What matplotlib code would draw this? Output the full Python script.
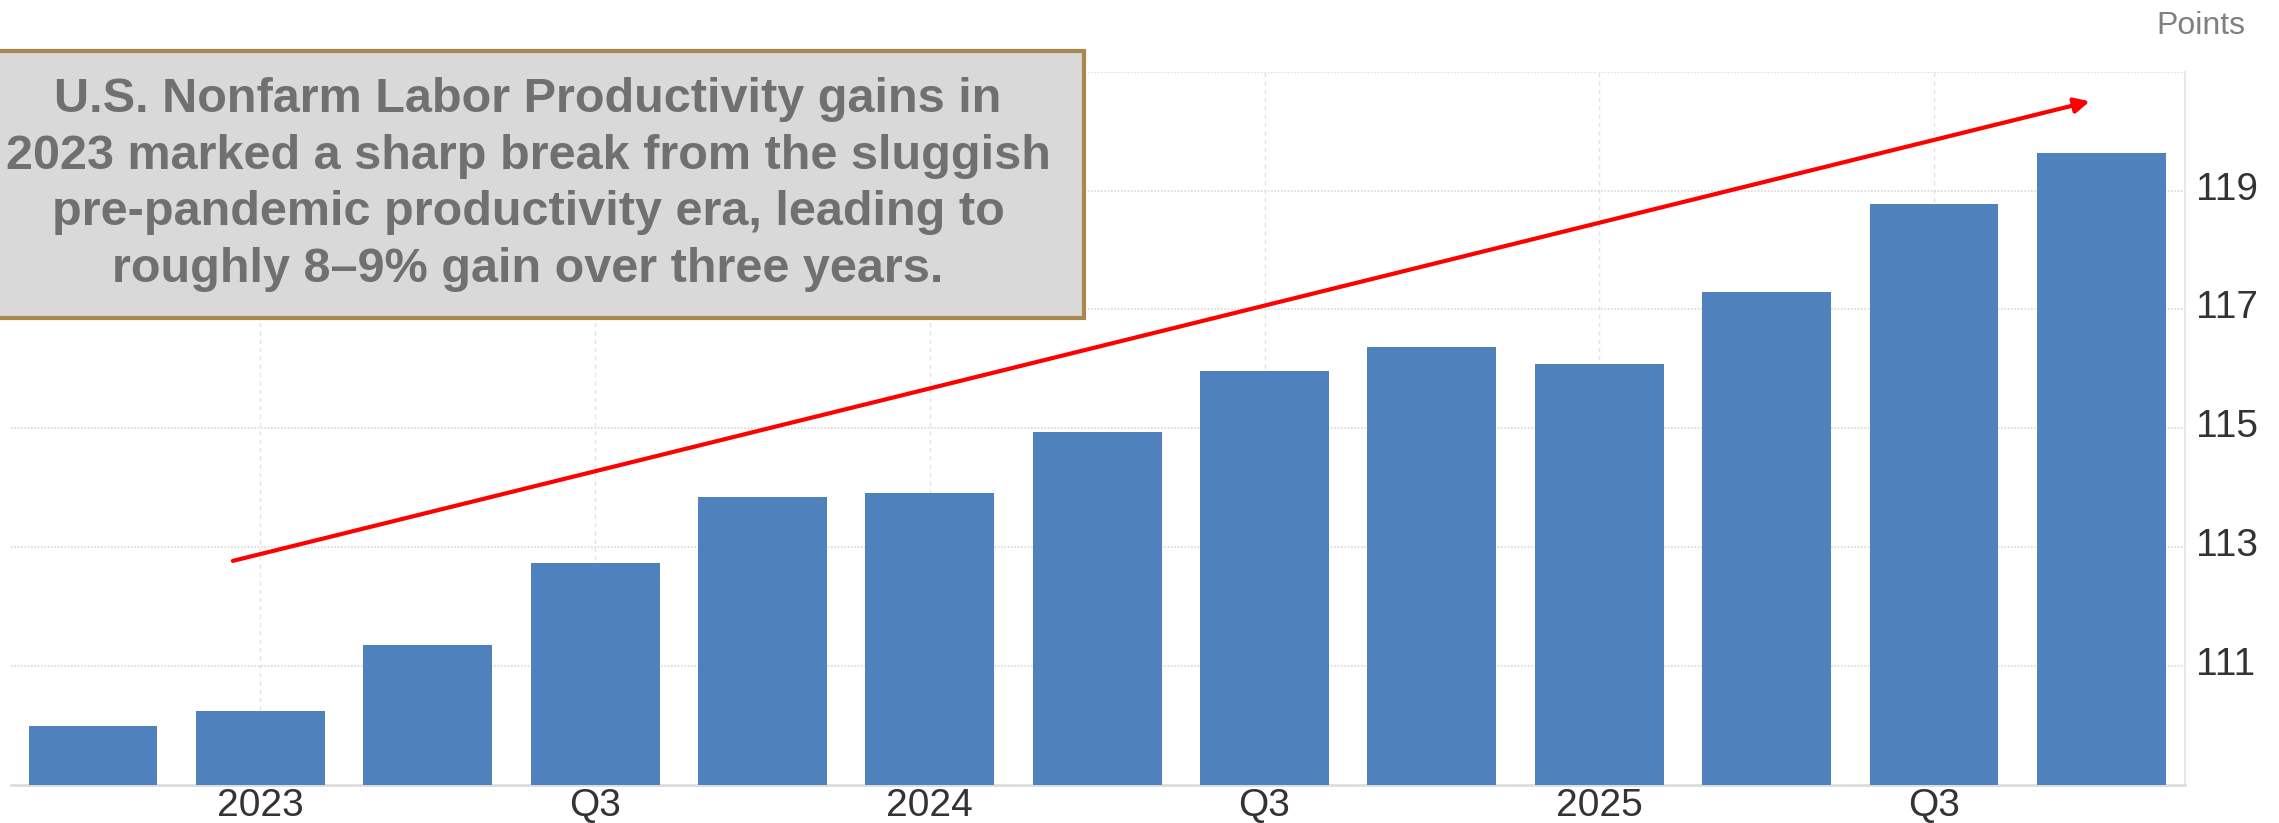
import matplotlib.pyplot as plt
from matplotlib.transforms import ScaledTranslation

# quarterly index values, 2022 Q4 .. 2025 Q4
quarters = ['2022Q4', '2023Q1', '2023Q2', '2023Q3', '2023Q4', '2024Q1', '2024Q2',
            '2024Q3', '2024Q4', '2025Q1', '2025Q2', '2025Q3', '2025Q4']
values = [110.0, 110.24, 111.35, 112.74, 113.84, 113.92, 114.94,
          115.96, 116.37, 116.08, 117.29, 118.78, 119.63]
tick_idx = [1, 3, 5, 7, 9, 11]
tick_labels = ['2023', 'Q3', '2024', 'Q3', '2025', 'Q3']
y_ticks = [111, 113, 115, 117, 119]
note = ("U.S. Nonfarm Labor Productivity gains in\n"
        "2023 marked a sharp break from the sluggish\n"
        "pre-pandemic productivity era, leading to\n"
        "roughly 8\u20139% gain over three years.")

plt.rcParams['font.family'] = ['Liberation Sans', 'DejaVu Sans']

fig = plt.figure(figsize=(22.79, 8.23), dpi=100)
ax = fig.add_axes([0.0048, 0.0462, 0.954, 0.8667])

x = list(range(len(values)))
ax.bar(x, [v - 109 for v in values], bottom=109, width=0.77, color='#4f81bd', zorder=3)

ax.set_xlim(-0.49, 12.5)
ax.set_ylim(109, 121)

ax.set_xticks(tick_idx)
ax.set_xticklabels(tick_labels)
ax.set_yticks(y_ticks + [121])
ax.set_yticklabels([str(t) for t in y_ticks] + [''])
ax.yaxis.tick_right()
ax.tick_params(axis='y', length=0, pad=8, labelsize=28, labelcolor='#333333')
ax.tick_params(axis='x', length=0, pad=2, labelsize=28, labelcolor='#333333')
# labels sit a little above their gridline
for lab in ax.get_yticklabels():
    lab.set_transform(lab.get_transform() + ScaledTranslation(0, 0.05, fig.dpi_scale_trans))

ax.grid(axis='y', linestyle=(0, (1, 1)), color='#d9d9d9', linewidth=1.2, zorder=0)
ax.grid(axis='x', linestyle=(0, (3, 3)), color='#e3e3e3', linewidth=1.0, zorder=0)

for side in ['top', 'left']:
    ax.spines[side].set_visible(False)
ax.spines['bottom'].set_color('#dddddd')
ax.spines['bottom'].set_linewidth(2)
ax.spines['right'].set_color('#e3e3e3')
ax.spines['right'].set_linewidth(1.2)

fig.text(2245 / 2279, 1 - 26 / 823, 'Points', ha='right', va='center', fontsize=23, color='#808080')

# trend arrow
ax.annotate('', xy=(11.93, 120.5), xytext=(0.836, 112.77),
            arrowprops=dict(arrowstyle='-|>,head_length=0.9,head_width=0.45',
                            color='#ff0000', lw=3, shrinkA=0, shrinkB=0), zorder=5)

# annotation box
box_l, box_r, box_t, box_b = -4 / 2279, 1084 / 2279, 1 - 51 / 823, 1 - 318 / 823
fig.patches.append(plt.Rectangle((box_l, box_b), box_r - box_l, box_t - box_b,
                                 transform=fig.transFigure, facecolor='#d9d9d9',
                                 edgecolor='#a8884c', linewidth=3, zorder=10))
fig.text(528 / 2279, (box_t + box_b) / 2, note, ha='center', va='center',
         fontsize=35, fontweight='bold', color='#707070', linespacing=1.33, zorder=11)

fig.savefig('out.png', dpi=100)
